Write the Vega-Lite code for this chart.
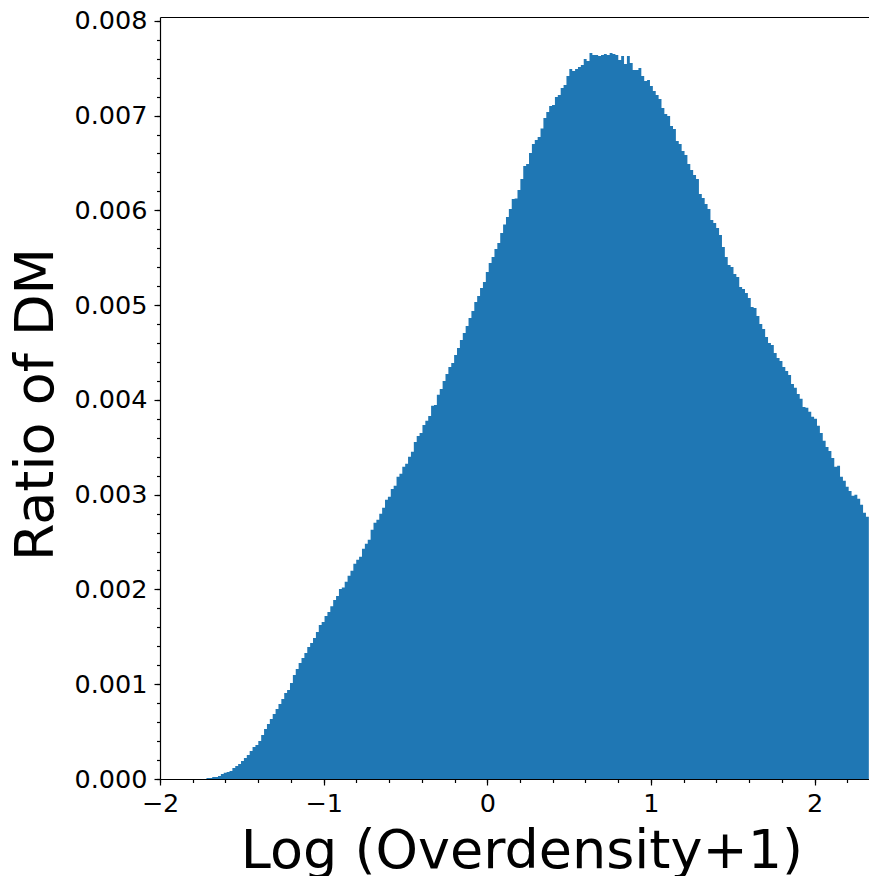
{
"$schema": "https://vega.github.io/schema/vega-lite/v6.json",
"width": 709, "height": 762,
"autosize": {"type": "none"},
"padding": {"left": 160, "top": 17, "right": 0, "bottom": 97},
"config": {
 "view": {"stroke": null},
 "font": "DejaVu Sans",
 "axis": {"grid": false, "domainColor": "#000000", "tickColor": "#000000", "labelColor": "#000000", "titleColor": "#000000", "labelFont": "DejaVu Sans", "titleFont": "DejaVu Sans", "labelFontSize": 25.5, "titleFontSize": 54, "titleFontWeight": "normal", "domainWidth": 1.2, "tickWidth": 1.2, "labelFlush": false, "labelOverlap": false}
},
"data": {"values": [
{"x":-1.716,"y":0.0000105},{"x":-1.6984,"y":0.0000105},{"x":-1.6808,"y":0.0000211},{"x":-1.6632,"y":0.0000211},{"x":-1.6456,"y":0.0000316},{"x":-1.628,"y":0.0000527},{"x":-1.6104,"y":0.0000664},{"x":-1.5928,"y":0.0000738},{"x":-1.5752,"y":0.0000844},{"x":-1.5576,"y":0.000116},
{"x":-1.54,"y":0.000137},{"x":-1.5224,"y":0.000158},{"x":-1.5048,"y":0.00019},{"x":-1.4872,"y":0.000221},{"x":-1.4696,"y":0.000253},{"x":-1.452,"y":0.000295},{"x":-1.4344,"y":0.000337},{"x":-1.4168,"y":0.000359},{"x":-1.3992,"y":0.000401},{"x":-1.3816,"y":0.000464},
{"x":-1.364,"y":0.000527},{"x":-1.3464,"y":0.00058},{"x":-1.3288,"y":0.000633},{"x":-1.3112,"y":0.000685},{"x":-1.2936,"y":0.000738},{"x":-1.276,"y":0.000791},{"x":-1.2584,"y":0.000844},{"x":-1.2408,"y":0.000907},{"x":-1.2232,"y":0.000939},{"x":-1.2056,"y":0.001012},
{"x":-1.188,"y":0.001097},{"x":-1.1704,"y":0.00116},{"x":-1.1528,"y":0.001223},{"x":-1.1352,"y":0.001276},{"x":-1.1176,"y":0.001329},{"x":-1.1,"y":0.001392},{"x":-1.0824,"y":0.001434},{"x":-1.0648,"y":0.001487},{"x":-1.0472,"y":0.00155},{"x":-1.0296,"y":0.001624},
{"x":-1.012,"y":0.001656},{"x":-0.9944,"y":0.001719},{"x":-0.9768,"y":0.001761},{"x":-0.9592,"y":0.001824},{"x":-0.9416,"y":0.001888},{"x":-0.924,"y":0.00193},{"x":-0.9064,"y":0.002004},{"x":-0.8888,"y":0.00202},{"x":-0.8712,"y":0.002081},{"x":-0.8536,"y":0.002144},
{"x":-0.836,"y":0.002197},{"x":-0.8184,"y":0.002271},{"x":-0.8008,"y":0.002313},{"x":-0.7832,"y":0.002344},{"x":-0.7656,"y":0.002429},{"x":-0.748,"y":0.002481},{"x":-0.7304,"y":0.002524},{"x":-0.7128,"y":0.002629},{"x":-0.6952,"y":0.002703},{"x":-0.6776,"y":0.002735},
{"x":-0.66,"y":0.002798},{"x":-0.6424,"y":0.002861},{"x":-0.6248,"y":0.002946},{"x":-0.6072,"y":0.002977},{"x":-0.5896,"y":0.003061},{"x":-0.572,"y":0.003093},{"x":-0.5544,"y":0.003188},{"x":-0.5368,"y":0.00322},{"x":-0.5192,"y":0.003294},{"x":-0.5016,"y":0.003325},
{"x":-0.484,"y":0.003399},{"x":-0.4664,"y":0.003452},{"x":-0.4488,"y":0.003557},{"x":-0.4312,"y":0.00362},{"x":-0.4136,"y":0.003652},{"x":-0.396,"y":0.003736},{"x":-0.3784,"y":0.003779},{"x":-0.3608,"y":0.003831},{"x":-0.3432,"y":0.003937},{"x":-0.3256,"y":0.003947},
{"x":-0.308,"y":0.004053},{"x":-0.2904,"y":0.004116},{"x":-0.2728,"y":0.0042},{"x":-0.2552,"y":0.004274},{"x":-0.2376,"y":0.004348},{"x":-0.22,"y":0.00439},{"x":-0.2024,"y":0.004475},{"x":-0.1848,"y":0.004548},{"x":-0.1672,"y":0.004633},{"x":-0.1496,"y":0.004707},
{"x":-0.132,"y":0.004781},{"x":-0.1144,"y":0.004865},{"x":-0.0968,"y":0.004939},{"x":-0.0792,"y":0.005034},{"x":-0.0616,"y":0.005097},{"x":-0.044,"y":0.005181},{"x":-0.0264,"y":0.005245},{"x":-0.0088,"y":0.00535},{"x":0.0088,"y":0.005445},{"x":0.0264,"y":0.005508},
{"x":0.044,"y":0.005593},{"x":0.0616,"y":0.005656},{"x":0.0792,"y":0.005761},{"x":0.0968,"y":0.00585},{"x":0.1144,"y":0.00593},{"x":0.132,"y":0.006014},{"x":0.1496,"y":0.00612},{"x":0.1672,"y":0.006126},{"x":0.1848,"y":0.006215},{"x":0.2024,"y":0.006331},
{"x":0.22,"y":0.006468},{"x":0.2376,"y":0.006489},{"x":0.2552,"y":0.006605},{"x":0.2728,"y":0.0067},{"x":0.2904,"y":0.006742},{"x":0.308,"y":0.006774},{"x":0.3256,"y":0.006863},{"x":0.3432,"y":0.006974},{"x":0.3608,"y":0.007037},{"x":0.3784,"y":0.007101},
{"x":0.396,"y":0.007111},{"x":0.4136,"y":0.007196},{"x":0.4312,"y":0.007217},{"x":0.4488,"y":0.00729},{"x":0.4664,"y":0.007322},{"x":0.484,"y":0.007417},{"x":0.5016,"y":0.007491},{"x":0.5192,"y":0.00747},{"x":0.5368,"y":0.007491},{"x":0.5544,"y":0.007512},
{"x":0.572,"y":0.007533},{"x":0.5896,"y":0.007596},{"x":0.6072,"y":0.007575},{"x":0.6248,"y":0.007659},{"x":0.6424,"y":0.007638},{"x":0.66,"y":0.007638},{"x":0.6776,"y":0.007628},{"x":0.6952,"y":0.007638},{"x":0.7128,"y":0.007649},{"x":0.7304,"y":0.007638},
{"x":0.748,"y":0.007659},{"x":0.7656,"y":0.007649},{"x":0.7832,"y":0.007638},{"x":0.8008,"y":0.007586},{"x":0.8184,"y":0.007628},{"x":0.836,"y":0.007543},{"x":0.8536,"y":0.007628},{"x":0.8712,"y":0.007554},{"x":0.8888,"y":0.00748},{"x":0.9064,"y":0.00748},
{"x":0.924,"y":0.007501},{"x":0.9416,"y":0.007417},{"x":0.9592,"y":0.007364},{"x":0.9768,"y":0.007375},{"x":0.9944,"y":0.007311},{"x":1.012,"y":0.007259},{"x":1.0296,"y":0.007217},{"x":1.0472,"y":0.007174},{"x":1.0648,"y":0.00708},{"x":1.0824,"y":0.007016},
{"x":1.1,"y":0.006995},{"x":1.1176,"y":0.00689},{"x":1.1352,"y":0.006858},{"x":1.1528,"y":0.006732},{"x":1.1704,"y":0.0067},{"x":1.188,"y":0.006626},{"x":1.2056,"y":0.006584},{"x":1.2232,"y":0.006489},{"x":1.2408,"y":0.006426},{"x":1.2584,"y":0.006373},
{"x":1.276,"y":0.006331},{"x":1.2936,"y":0.006173},{"x":1.3112,"y":0.00613},{"x":1.3288,"y":0.006067},{"x":1.3464,"y":0.006014},{"x":1.364,"y":0.005898},{"x":1.3816,"y":0.005867},{"x":1.3992,"y":0.005814},{"x":1.4168,"y":0.00574},{"x":1.4344,"y":0.005614},
{"x":1.452,"y":0.005508},{"x":1.4696,"y":0.005424},{"x":1.4872,"y":0.005403},{"x":1.5048,"y":0.005329},{"x":1.5224,"y":0.005297},{"x":1.54,"y":0.005192},{"x":1.5576,"y":0.005171},{"x":1.5752,"y":0.005129},{"x":1.5928,"y":0.005076},{"x":1.6104,"y":0.004981},
{"x":1.628,"y":0.00497},{"x":1.6456,"y":0.004886},{"x":1.6632,"y":0.004802},{"x":1.6808,"y":0.004749},{"x":1.6984,"y":0.004664},{"x":1.716,"y":0.004601},{"x":1.7336,"y":0.00458},{"x":1.7512,"y":0.004496},{"x":1.7688,"y":0.004443},{"x":1.7864,"y":0.004411},
{"x":1.804,"y":0.004348},{"x":1.8216,"y":0.004306},{"x":1.8392,"y":0.004264},{"x":1.8568,"y":0.004169},{"x":1.8744,"y":0.004127},{"x":1.892,"y":0.004063},{"x":1.9096,"y":0.004011},{"x":1.9272,"y":0.003926},{"x":1.9448,"y":0.003916},{"x":1.9624,"y":0.003874},
{"x":1.98,"y":0.003821},{"x":1.9976,"y":0.0038},{"x":2.0152,"y":0.003726},{"x":2.0328,"y":0.003652},{"x":2.0504,"y":0.003568},{"x":2.068,"y":0.003504},{"x":2.0856,"y":0.003462},{"x":2.1032,"y":0.003388},{"x":2.1208,"y":0.003294},{"x":2.1384,"y":0.003304},
{"x":2.156,"y":0.003188},{"x":2.1736,"y":0.003146},{"x":2.1912,"y":0.003083},{"x":2.2088,"y":0.00304},{"x":2.2264,"y":0.002988},{"x":2.244,"y":0.002998},{"x":2.2616,"y":0.002956},{"x":2.2792,"y":0.002893},{"x":2.2968,"y":0.002808},{"x":2.3144,"y":0.002766},
{"x":2.332,"y":0.00274}
]},
"layer": [
 {
  "mark": {"type": "area", "interpolate": "step-after", "color": "#1f77b4", "clip": true},
  "encoding": {
   "x": {"field": "x", "type": "quantitative", "scale": {"domain": [-2, 2.333], "nice": false, "zero": false},
    "axis": {"orient": "bottom", "values": [-2, -1, 0, 1, 2], "format": "d", "tickSize": 6, "labelPadding": 6, "title": "Log (Overdensity+1)", "titleX": 361.5, "titleY": 88, "titleAlign": "center", "titleBaseline": "alphabetic", "titleAnchor": "start"}},
   "y": {"field": "y", "type": "quantitative", "scale": {"domain": [0, 0.00804], "nice": false},
    "axis": {"orient": "left", "values": [0, 0.001, 0.002, 0.003, 0.004, 0.005, 0.006, 0.007, 0.008], "format": ".3f", "tickSize": 6, "labelPadding": 7, "title": "Ratio of DM", "titleAngle": 270, "titleX": -108, "titleY": 387, "titleAlign": "center", "titleBaseline": "alphabetic", "titleAnchor": "start"}}
  }
 },
 {
  "mark": {"type": "point", "opacity": 0},
  "encoding": {
   "x": {"field": "x", "type": "quantitative", "scale": {"domain": [-2, 2.333], "nice": false, "zero": false},
    "axis": {"orient": "bottom", "values": [-2, -1.8, -1.6, -1.4, -1.2, -1, -0.8, -0.6, -0.4, -0.2, 0, 0.2, 0.4, 0.6, 0.8, 1, 1.2, 1.4, 1.6, 1.8, 2, 2.2], "labels": false, "domain": false, "tickSize": 3.5, "title": null}},
   "y": {"field": "y", "type": "quantitative", "scale": {"domain": [0, 0.00804], "nice": false},
    "axis": {"orient": "left", "values": [0, 0.0002, 0.0004, 0.0006, 0.0008, 0.001, 0.0012, 0.0014, 0.0016, 0.0018, 0.002, 0.0022, 0.0024, 0.0026, 0.0028, 0.003, 0.0032, 0.0034, 0.0036, 0.0038, 0.004, 0.0042, 0.0044, 0.0046, 0.0048, 0.005, 0.0052, 0.0054, 0.0056, 0.0058, 0.006, 0.0062, 0.0064, 0.0066, 0.0068, 0.007, 0.0072, 0.0074, 0.0076, 0.0078, 0.008], "labels": false, "domain": false, "tickSize": 3.5, "title": null}}
  }
 },
 {
  "mark": {"type": "point", "opacity": 0},
  "encoding": {
   "x": {"field": "x", "type": "quantitative", "scale": {"domain": [-2, 2.333], "nice": false, "zero": false},
    "axis": {"orient": "top", "labels": false, "ticks": false, "domain": true, "title": null}},
   "y": {"field": "y", "type": "quantitative", "scale": {"domain": [0, 0.00804], "nice": false}, "axis": null}
  }
 }
],
"resolve": {"axis": {"x": "independent", "y": "independent"}}
}
